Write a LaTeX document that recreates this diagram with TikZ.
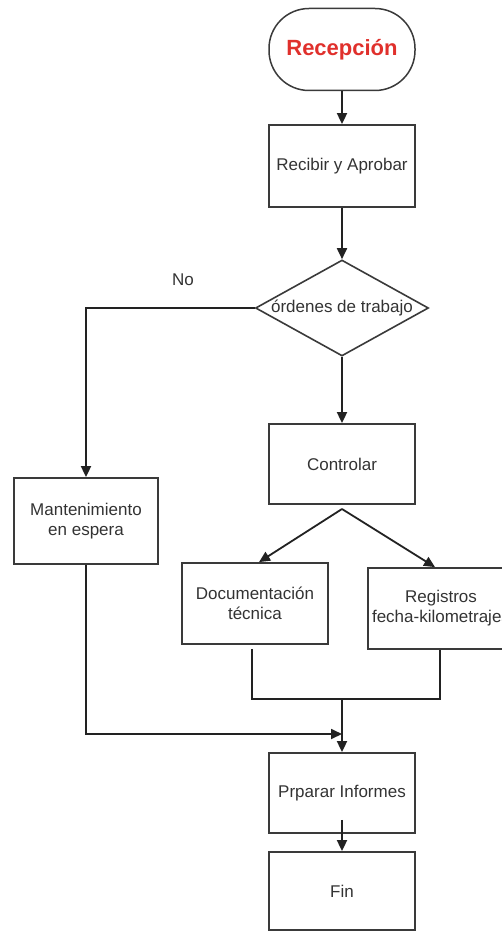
\documentclass[tikz,border=0pt]{standalone}
\usepackage{fontspec}
\setmainfont{Liberation Sans}
\usetikzlibrary{arrows.meta,shapes.geometric}
\definecolor{linegray}{HTML}{222222}
\definecolor{boxgray}{HTML}{3A3A3A}
\definecolor{txtgray}{HTML}{333333}
\definecolor{startred}{HTML}{E0302C}
\begin{document}
\begin{tikzpicture}[x=1pt,y=-1pt,
  every node/.style={font=\fontsize{17}{20}\selectfont, text=txtgray},
  stepbox/.style={draw=boxgray, line width=1.8pt, rectangle, minimum width=146pt, minimum height=81pt, inner sep=2pt, align=center},
  startbox/.style={draw=boxgray, line width=1.5pt, rectangle, rounded corners=40pt, minimum width=146pt, minimum height=82pt},
  decision/.style={draw=boxgray, line width=1.6pt, diamond, minimum width=173pt, minimum height=96pt, inner sep=0pt},
  flow/.style={draw=linegray, line width=1.8pt, -{Triangle[length=11pt,width=10pt]}},
  plain/.style={draw=linegray, line width=1.8pt}]
\useasboundingbox (0,0) rectangle (502,931);
\clip (0,0) rectangle (502,931);

% start terminal and first step
\node[startbox, font=\fontsize{22}{26}\selectfont\bfseries, text=startred] (rec) at (342,49.5) {Recepción};
\node[stepbox, minimum height=82pt] (recibir) at (342,166) {Recibir y Aprobar};

% decision
\node[decision] (dec) at (342,308) {};
\node (dectxt) at (342,308) {órdenes de trabajo};
\node (no) at (183,280) {No};

% branches
\node[stepbox, minimum width=144pt, minimum height=86pt] (mant) at (86,521) {Mantenimiento\\en espera};
\node[stepbox, minimum height=80pt] (cont) at (342,464) {Controlar};
\node[stepbox] (doc) at (255,603.5) {Documentación\\técnica};
\node[stepbox] (reg) at (441,608.5) {Registros\\fecha-kilometrajes};

% final steps
\node[stepbox, minimum height=80pt] (prep) at (342,793) {Prparar Informes};
\node[stepbox, minimum height=78pt] (fin) at (342,891) {Fin};

% junction points
\coordinate (split) at (342,509);
\coordinate (join) at (342,699);
\coordinate (merge) at (342,734);

% connectors
\draw[flow] (rec.south) -- (recibir.north);
\draw[flow] (recibir.south) -- (dec.north);
\draw[flow] (dec.west) -| (mant.north);
\draw[flow] (dec.south) -- (cont.north);
\draw[flow] (split) -- ([xshift=4pt]doc.north);
\draw[flow] (split) -- ([xshift=-6pt]reg.north);
\draw[plain] ([xshift=-3pt,yshift=-4pt]doc.south) |- (join);
\draw[plain] ([xshift=-1pt]reg.south) |- (join);
\draw[flow] (join) -- (prep.north);
\draw[flow] (mant.south) |- (merge);
\draw[flow] ([yshift=14pt]prep.south) -- (fin.north);
\end{tikzpicture}
\end{document}
